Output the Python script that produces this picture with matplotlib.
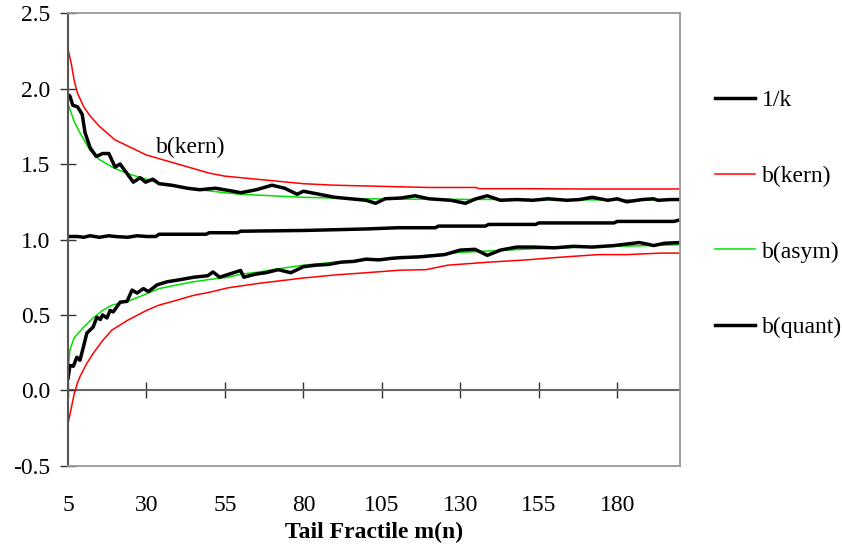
import numpy as np
import matplotlib
matplotlib.use('Agg')
import matplotlib.pyplot as plt

plt.rcParams['font.family'] = ['Liberation Serif', 'DejaVu Serif']
plt.rcParams['font.size'] = 17

x_ticks = [5, 30, 55, 80, 105, 130, 155, 180]
y_ticks = [-0.5, 0.0, 0.5, 1.0, 1.5, 2.0, 2.5]

kern_hi_x = [5, 6, 7, 8, 10, 12, 15, 20, 25, 30, 35, 40, 45, 50, 55, 60, 70, 80, 90, 100,
             110, 120, 135, 136, 150, 170, 200]
kern_hi_y = [2.26, 2.17, 2.05, 1.97, 1.88, 1.82, 1.75, 1.66, 1.61, 1.56, 1.53, 1.50, 1.47, 1.44,
             1.42, 1.41, 1.39, 1.37, 1.36, 1.355, 1.35, 1.345, 1.345, 1.337, 1.337, 1.335, 1.335]

kern_lo_x = [5, 6, 7, 8, 9, 11, 13, 16, 19, 24, 30, 34, 40, 45, 50, 56, 66, 80, 90, 100, 111,
             119, 126, 139, 151, 162, 174, 183, 194, 200]
kern_lo_y = [-0.22, -0.12, -0.02, 0.05, 0.10, 0.18, 0.245, 0.33, 0.40, 0.465, 0.53, 0.565, 0.60,
             0.63, 0.65, 0.68, 0.71, 0.745, 0.765, 0.78, 0.797, 0.80, 0.83, 0.85, 0.865, 0.883,
             0.90, 0.90, 0.91, 0.91]

asym_hi_x = [5, 6, 7, 9, 12, 15, 20, 25, 30, 36, 40, 47, 55, 60, 70, 80, 90, 100, 110, 130,
             150, 170, 200]
asym_hi_y = [1.90, 1.84, 1.78, 1.70, 1.59, 1.53, 1.47, 1.43, 1.40, 1.36, 1.35, 1.33, 1.31, 1.30,
             1.29, 1.28, 1.275, 1.27, 1.268, 1.266, 1.265, 1.263, 1.262]

asym_lo_x = [5, 5.6, 7, 10, 13, 16, 19, 24, 30, 34, 40, 45, 50, 56, 60, 66, 70, 80, 90, 100,
             111, 120, 130, 140, 155, 170, 180, 190, 200]
asym_lo_y = [0.13, 0.27, 0.35, 0.42, 0.48, 0.53, 0.565, 0.59, 0.64, 0.675, 0.70, 0.72, 0.735,
             0.75, 0.77, 0.785, 0.80, 0.83, 0.85, 0.865, 0.88, 0.895, 0.915, 0.925, 0.94, 0.95,
             0.955, 0.96, 0.965]

quant_hi_x = [5, 5.6, 6.5, 8, 9.5, 10.4, 12, 14, 16, 18, 20, 21.6, 23, 25.8, 28, 29.7, 32, 34,
              38, 43, 47, 52, 57.6, 60, 65, 70, 74, 78, 80, 85, 90, 95, 100, 103, 106, 111,
              115.6, 120, 127, 131.6, 135, 138.6, 142.8, 148, 153, 158, 164, 168, 172, 177,
              180, 183, 188, 191.5, 193, 197, 200]
quant_hi_y = [1.96, 1.95, 1.89, 1.88, 1.83, 1.71, 1.61, 1.55, 1.57, 1.57, 1.48, 1.50, 1.46,
              1.38, 1.41, 1.38, 1.40, 1.37, 1.36, 1.34, 1.33, 1.34, 1.32, 1.31, 1.33, 1.36,
              1.34, 1.30, 1.32, 1.30, 1.28, 1.27, 1.26, 1.24, 1.27, 1.275, 1.29, 1.27, 1.26,
              1.24, 1.27, 1.29, 1.26, 1.265, 1.26, 1.27, 1.26, 1.265, 1.28, 1.26, 1.27, 1.25,
              1.265, 1.27, 1.26, 1.265, 1.265]

inv_k_x = [5, 8, 10, 12, 15, 18, 20, 24, 27, 30, 33, 34, 49, 50, 59, 60, 80, 90, 100, 110,
           122, 123, 138, 139, 154, 155, 179, 180, 198, 200]
inv_k_y = [1.02, 1.02, 1.015, 1.025, 1.015, 1.025, 1.02, 1.015, 1.025, 1.02, 1.02, 1.035,
           1.035, 1.045, 1.045, 1.055, 1.06, 1.065, 1.07, 1.078, 1.078, 1.089, 1.089, 1.10,
           1.10, 1.11, 1.11, 1.12, 1.12, 1.13]

quant_lo_x = [5, 5.6, 6.7, 7.8, 8.8, 9.8, 11, 12, 13, 14.2, 15.3, 16, 17.4, 18.4, 19.4, 21.6,
              23.8, 25.4, 27, 29, 30.6, 33.4, 36.6, 41, 45, 49.5, 51.2, 53.3, 55.5, 60, 61,
              64.6, 68, 72, 76, 80, 84, 88, 92, 96, 100, 104, 108, 111, 117, 125, 130, 134.7,
              138.6, 142.8, 148, 153, 160, 166, 172, 179, 187, 189.5, 191.6, 195, 200]
quant_lo_y = [0.08, 0.165, 0.16, 0.22, 0.20, 0.28, 0.38, 0.40, 0.42, 0.485, 0.47, 0.50, 0.48,
              0.53, 0.52, 0.585, 0.59, 0.665, 0.645, 0.675, 0.655, 0.70, 0.72, 0.735, 0.75,
              0.76, 0.785, 0.75, 0.765, 0.795, 0.75, 0.77, 0.78, 0.80, 0.78, 0.82, 0.83, 0.835,
              0.85, 0.855, 0.87, 0.865, 0.875, 0.88, 0.885, 0.90, 0.93, 0.935, 0.895, 0.93,
              0.95, 0.95, 0.945, 0.955, 0.95, 0.96, 0.98, 0.97, 0.96, 0.975, 0.98]

fig = plt.figure(figsize=(8.42, 5.5), dpi=100)
ax = fig.add_axes([0.0808, 0.153, 0.7268, 0.823])

red = '#ff0000'
green = '#00e000'
thin = 1.1
thick = 2.5

ax.plot(asym_hi_x, asym_hi_y, color=green, lw=thin)
ax.plot(asym_lo_x, asym_lo_y, color=green, lw=thin, label='b(asym)')
ax.plot(kern_hi_x, kern_hi_y, color=red, lw=thin, label='b(kern)')
ax.plot(kern_lo_x, kern_lo_y, color=red, lw=thin)
ax.plot(inv_k_x, inv_k_y, color='black', lw=thick, label='1/k')
ax.plot(quant_hi_x, quant_hi_y, color='black', lw=thick, label='b(quant)')
ax.plot(quant_lo_x, quant_lo_y, color='black', lw=thick)

ax.text(44, 1.61, 'b(kern)', ha='center', va='center')

ax.set_xlim(5, 200)
ax.set_ylim(-0.5, 2.5)
ax.set_yticks(y_ticks)
ax.set_yticklabels([f'{v:.1f}' for v in y_ticks])
ax.set_xticks(x_ticks)
ax.tick_params(axis='y', direction='inout', length=11.5, width=1, color='#333333', pad=7)
ax.tick_params(axis='x', length=0, pad=21)
ax.set_xlabel('Tail Fractile m(n)', fontweight='bold', labelpad=4)

ax.spines['left'].set_color('#555555')
ax.spines['left'].set_linewidth(1.5)
for s in ['top', 'right', 'bottom']:
    ax.spines[s].set_color('#999999')
    ax.spines[s].set_linewidth(1.3)

# x axis line through zero with its tick marks
zero = (0 - ax.get_ylim()[0]) / (ax.get_ylim()[1] - ax.get_ylim()[0])
sec = ax.secondary_xaxis(zero)
sec.set_xticks(x_ticks)
sec.tick_params(direction='inout', length=11.5, width=1, color='#333333', labelbottom=False)
sec.spines['bottom'].set_color('#666666')
sec.spines['bottom'].set_linewidth(1.5)

handles, labels = ax.get_legend_handles_labels()
order = ['1/k', 'b(kern)', 'b(asym)', 'b(quant)']
hmap = dict(zip(labels, handles))
fig.legend([hmap[k] for k in order], order, loc='center left',
           bbox_to_anchor=(0.824, 0.611), frameon=False, handlelength=1.7,
           handletextpad=0.3, labelspacing=2.3)

plt.savefig('out.png', dpi=100)
